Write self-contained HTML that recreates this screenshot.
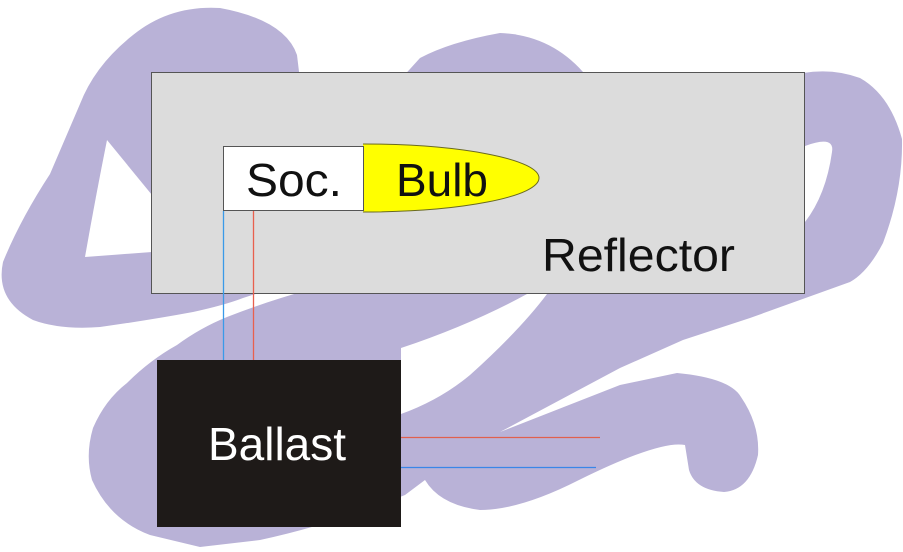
<!DOCTYPE html>
<html><head><style>
html,body{margin:0;padding:0;background:#fff;}
body{width:903px;height:547px;overflow:hidden;}
</style></head><body>
<svg width="903" height="547" viewBox="0 0 903 547" xmlns="http://www.w3.org/2000/svg">
<defs><clipPath id="c"><rect x="363" y="100" width="300" height="150"/></clipPath></defs>
<g fill="#b9b2d7">
<path d="M300 80 L297 55 Q285 20 220 8 Q170 5 133 35 Q95 65 80 104 L50 174 Q20 220 3 262 Q-5 300 33 320 Q60 330 100 327 Q150 320 193 312 Q225 305 243 298 L268 290 Z"/>
<path d="M400 80 L420 58 Q450 42 500 33 Q550 35 583 72 L590 120 L400 120 Z"/>
<path d="M308 290 L560 200 L803 100 L803 73 Q833 68 860 78 Q890 95 902 139 Q903 190 883 243 Q868 272 850 282 L750 318 L683 340 L620 368 L500 432 L620 385 L677 373 Q730 378 741 397 Q760 425 758 455 Q750 490 724 492 Q695 490 689 470 L685 445 Q660 440 579 480 Q520 510 480 510 Q440 505 425 480 L405 495 Q330 525 260 540 L200 547 L150 535 Q110 520 92 480 Q85 455 93 428 Q105 400 127 383 Q150 360 177 345 Q200 328 227 317 Q265 302 308 290 Z"/>
</g>
<path d="M107 140 L152 195 L152 252 L85 257 Q95 200 107 140 Z" fill="#fff"/>
<path d="M527 294 L547 294 Q520 330 470 375 Q440 400 401 414 L401 348 Q470 325 527 294 Z" fill="#fff"/>
<path d="M805 146 Q835 135 832 152 Q826 195 805 222 Z" fill="#fff"/>
<rect x="151.5" y="72.5" width="653" height="221" fill="#dcdcdc" stroke="#555" stroke-width="1"/>
<ellipse cx="363" cy="178" rx="176" ry="34" fill="#ffff00" stroke="#6a6a20" stroke-width="1" clip-path="url(#c)"/>
<rect x="223.5" y="146.5" width="140" height="64" fill="#fff" stroke="#555" stroke-width="1"/>
<line x1="223.5" y1="211" x2="223.5" y2="360" stroke="#3a9ae8" stroke-width="1.3"/>
<line x1="253.5" y1="211" x2="253.5" y2="360" stroke="#e8604e" stroke-width="1.3"/>
<rect x="157" y="360" width="244" height="167" fill="#1e1a18"/>
<line x1="401" y1="437.5" x2="600" y2="437.5" stroke="#e0604e" stroke-width="1.3"/>
<line x1="401" y1="467.5" x2="596" y2="467.5" stroke="#3a86e8" stroke-width="1.3"/>
<g font-family="Liberation Sans, sans-serif" font-size="46">
<text x="246" y="196" fill="#111" textLength="96" lengthAdjust="spacingAndGlyphs">Soc.</text>
<text x="396" y="196" fill="#111" textLength="92" lengthAdjust="spacingAndGlyphs">Bulb</text>
<text x="542" y="271" fill="#111" textLength="193" lengthAdjust="spacingAndGlyphs">Reflector</text>
<text x="208" y="460" fill="#fff" textLength="138" lengthAdjust="spacingAndGlyphs">Ballast</text>
</g>
</svg>
</body></html>
